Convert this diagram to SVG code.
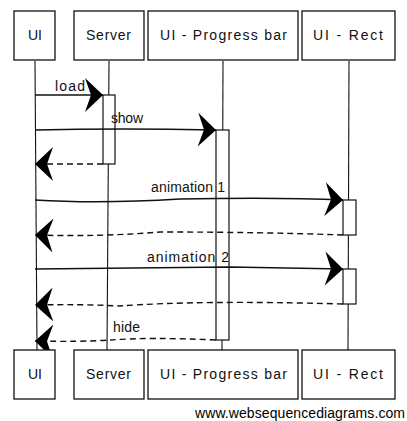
<svg xmlns="http://www.w3.org/2000/svg" width="407" height="421" viewBox="0 0 407 421">
<defs>
<style>
.box{fill:#fff;stroke:#111;stroke-width:1.3}
.life{stroke:#111;stroke-width:1.1;fill:none}
.msg{stroke:#111;stroke-width:1.4;fill:none}
.ret{stroke:#111;stroke-width:1.4;fill:none;stroke-dasharray:6,4}
.act{fill:#fff;stroke:#111;stroke-width:1.2}
.t{font-family:"Liberation Sans",Arial,sans-serif;font-size:14px;fill:#111}
.ft{font-family:"Liberation Sans",Arial,sans-serif;font-size:14px;fill:#000}
</style>
<marker id="ar" viewBox="0 0 20 36" refX="19" refY="18" markerWidth="20" markerHeight="36" markerUnits="userSpaceOnUse" orient="auto">
<path d="M19,18 L1,1 L7,18 L1,35 Z" fill="#000"/>
</marker>
</defs>
<g id="lifelines">
<path class="life" d="M35,61 L37,350"/>
<path class="life" d="M109,61 L107,350"/>
<path class="life" d="M223,61 L222,350"/>
<path class="life" d="M349,61 L348,350"/>
</g>
<g id="activations">
<rect class="act" x="103" y="95" width="12" height="69"/>
<rect class="act" x="216" y="130" width="13" height="210"/>
<rect class="act" x="343" y="200" width="13" height="35"/>
<rect class="act" x="343" y="269" width="13" height="35"/>
</g>
<g id="connectors">
<path class="msg" d="M35,95 L103,95" marker-end="url(#ar)"/>
<text class="t" x="55" y="91" textLength="30">load</text>
<path class="msg" d="M35,130 Q120,128 216,130" marker-end="url(#ar)"/>
<text class="t" x="111" y="123" textLength="32">show</text>
<path class="ret" d="M103,164 L35,164" marker-end="url(#ar)"/>
<path class="msg" d="M35,200 Q100,204 180,199 Q280,197 343,200" marker-end="url(#ar)"/>
<text class="t" x="151" y="192" textLength="74">animation 1</text>
<path class="ret" d="M343,235 Q260,232 160,232 Q100,237 35,235" marker-end="url(#ar)"/>
<path class="msg" d="M35,269 Q150,268 230,267 Q300,268 343,269" marker-end="url(#ar)"/>
<text class="t" x="147" y="262" textLength="82">animation 2</text>
<path class="ret" d="M343,304 Q200,300 120,306 Q80,304 35,305" marker-end="url(#ar)"/>
<path class="ret" d="M216,340 Q150,337 110,340 Q80,342 35,341" marker-end="url(#ar)"/>
<text class="t" x="113" y="332" textLength="27">hide</text>
</g>
<g id="ui-top"><rect class="box" x="14" y="11" width="41" height="49"/><text class="t" x="35" y="40" text-anchor="middle">UI</text></g>
<g id="server-top"><rect class="box" x="74" y="11" width="70" height="49"/><text class="t" x="86" y="40" textLength="45">Server</text></g>
<g id="progress-top"><rect class="box" x="148" y="11" width="150" height="49"/><text class="t" x="160" y="40" textLength="127">UI - Progress bar</text></g>
<g id="rect-top"><rect class="box" x="302" y="11" width="93" height="49"/><text class="t" x="313" y="40" textLength="70">UI - Rect</text></g>
<g id="ui-bottom"><rect class="box" x="14" y="350" width="41" height="49"/><text class="t" x="35" y="379" text-anchor="middle">UI</text></g>
<g id="server-bottom"><rect class="box" x="74" y="350" width="70" height="49"/><text class="t" x="86" y="379" textLength="45">Server</text></g>
<g id="progress-bottom"><rect class="box" x="148" y="350" width="150" height="49"/><text class="t" x="160" y="379" textLength="127">UI - Progress bar</text></g>
<g id="rect-bottom"><rect class="box" x="302" y="350" width="93" height="49"/><text class="t" x="313" y="379" textLength="70">UI - Rect</text></g>
<text class="ft" x="195" y="418" textLength="210">www.websequencediagrams.com</text>
</svg>
